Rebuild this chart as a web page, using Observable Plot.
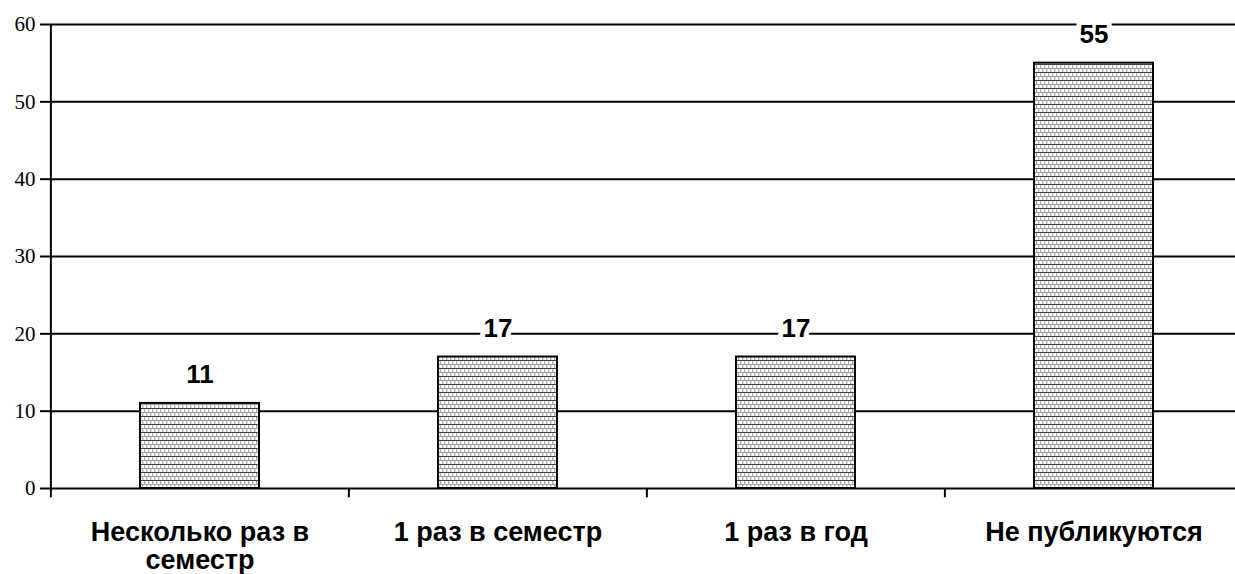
<!DOCTYPE html>
<html>
<head>
<meta charset="utf-8">
<script src="https://cdn.jsdelivr.net/npm/d3@7"></script>
<script src="https://cdn.jsdelivr.net/npm/@observablehq/plot@0.6"></script>
<style>
  html, body { margin: 0; padding: 0; background: #fff; overflow: hidden; }
  #chart svg { display: block; }
</style>
</head>
<body>
<svg width="0" height="0" style="position:absolute">
  <defs>
    <pattern id="brick" patternUnits="userSpaceOnUse" width="4" height="8">
      <rect x="0" y="0" width="4" height="8" fill="#ffffff"/>
      <rect x="0" y="1" width="1" height="3" fill="#b0b0b0"/>
      <rect x="2" y="5" width="1" height="3" fill="#b0b0b0"/>
      <rect x="1" y="1" width="1" height="3" fill="#e0e0e0"/>
      <rect x="3" y="5" width="1" height="3" fill="#e0e0e0"/>
      <rect x="0" y="4" width="4" height="1" fill="#a0a0a0"/>
      <rect x="0" y="0" width="4" height="1" fill="#404040"/>
    </pattern>
  </defs>
</svg>
<div id="chart"></div>
<script>
const categories = ["Несколько раз в семестр", "1 раз в семестр", "1 раз в год", "Не публикуются"];
const xLabels = ["Несколько раз в\nсеместр", "1 раз в семестр", "1 раз в год", "Не публикуются"];
const values = [11, 17, 17, 55];
const yTicks = [0, 10, 20, 30, 40, 50, 60];

const data = categories.map((c, i) => ({category: c, value: values[i], label: xLabels[i]}));

const W = 1235, H = 574;
const xRange = [50, 1243];
const step = (xRange[1] - xRange[0]) / categories.length;

const chart = Plot.plot({
  width: W,
  height: H,
  marginTop: 24,
  marginBottom: 86,
  marginLeft: 50,
  marginRight: 0,
  style: {background: "#fff", overflow: "visible"},
  x: {domain: categories, range: xRange, paddingInner: 0.6, paddingOuter: 0.3, axis: null},
  y: {domain: [0, 60], axis: null},
  marks: [
    Plot.gridY(yTicks.slice(1), {stroke: "#000", strokeOpacity: 1, strokeWidth: 2}),
    Plot.ruleY([0], {stroke: "#000", strokeWidth: 2}),
    Plot.ruleX(categories, {x: d => d, y1: 60, y2: -1.2, dx: -step / 2, stroke: "#000", strokeWidth: 2, filter: (d, i) => i === 0}),
    Plot.ruleX(categories, {x: d => d, y1: 0, y2: -1.2, dx: -step / 2, stroke: "#000", strokeWidth: 2, filter: (d, i) => i > 0}),
    Plot.axisY({ticks: yTicks, label: null, tickSize: 10, tickPadding: 5, tickFormat: d => String(d), fontSize: 21, fontFamily: "Liberation Serif, Times New Roman, serif", stroke: "#000", strokeWidth: 2, color: "#000"}),
    Plot.barY(data, {x: "category", y: "value", fill: "url(#brick)", stroke: "#000", strokeWidth: 2}),
    Plot.text(data, {x: "category", y: "value", text: d => String(d.value), dy: -20, lineAnchor: "bottom", fontSize: 26, fontWeight: "bold", fontFamily: "Liberation Sans, Arial, sans-serif", fill: "#000", stroke: "#fff", strokeWidth: 10, paintOrder: "stroke"}),
    Plot.text(data, {x: "category", y: 0, text: "label", dy: 32, lineAnchor: "top", lineHeight: 1.05, fontSize: 27, fontWeight: "bold", fontFamily: "Liberation Sans, Arial, sans-serif", fill: "#000"})
  ]
});
document.getElementById("chart").appendChild(chart);
</script>
</body>
</html>
